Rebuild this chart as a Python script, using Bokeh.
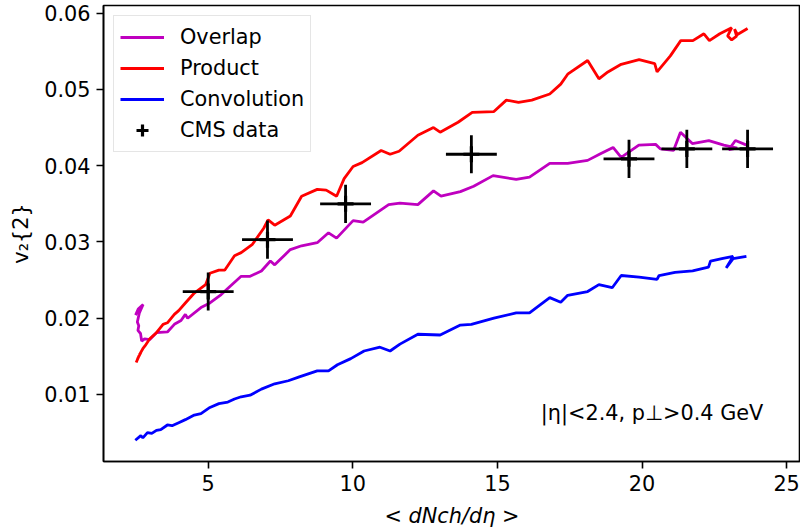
from bokeh.plotting import figure
from bokeh.models import Legend, LegendItem, Label, FixedTicker, Range1d, ColumnDataSource
from bokeh.embed import file_html
from bokeh.resources import INLINE

# ---- data ----
overlap_x = [2.49, 2.58, 2.75, 2.62, 2.55, 2.60, 2.57, 2.66, 2.70, 2.80, 2.98, 3.21, 3.59, 3.83,
             4.06, 4.21, 4.29, 4.75, 5.06, 5.45, 5.76, 6.14, 6.45, 6.84, 7.15, 7.30, 7.84, 8.23,
             8.77, 9.16, 9.44, 10.01, 10.36, 11.24, 11.63, 12.25, 12.79, 13.05, 13.72, 14.18,
             14.85, 15.65, 16.11, 16.81, 17.43, 18.12, 18.58, 19.00, 19.28, 19.89, 20.47, 20.64,
             21.09, 21.33, 21.74, 22.31, 22.83, 23.29, 23.00, 23.23, 23.62]
overlap_y = [0.0204, 0.0212, 0.0218, 0.0207, 0.0195, 0.0190, 0.0184, 0.0180, 0.0170, 0.0173,
             0.0172, 0.0181, 0.0182, 0.0192, 0.0197, 0.0205, 0.0200, 0.0214, 0.0220, 0.0231,
             0.0242, 0.0255, 0.0255, 0.0262, 0.0275, 0.0270, 0.0290, 0.0295, 0.0299, 0.0312,
             0.0305, 0.0328, 0.0326, 0.0349, 0.0351, 0.0349, 0.0367, 0.0360, 0.0366, 0.0373,
             0.0387, 0.0382, 0.0385, 0.0403, 0.0403, 0.0407, 0.0416, 0.0424, 0.0411, 0.0427,
             0.0428, 0.0422, 0.0420, 0.0444, 0.0429, 0.0433, 0.0427, 0.0423, 0.0421, 0.0433,
             0.0427]

product_x = [2.51, 2.60, 2.55, 2.67, 2.62, 2.74, 2.82, 2.98, 3.21, 3.44, 3.59, 3.83, 3.98, 4.21,
             4.52, 4.91, 5.06, 5.37, 5.57, 5.91, 6.14, 6.53, 6.92, 7.07, 7.30, 7.84, 8.23, 8.77,
             9.08, 9.44, 9.70, 10.01, 10.32, 10.98, 11.29, 11.60, 12.25, 12.79, 13.02, 13.64,
             14.13, 14.88, 15.31, 15.73, 16.19, 16.81, 17.19, 17.43, 18.12, 18.51, 18.82, 19.28,
             19.90, 20.44, 20.52, 20.98, 21.34, 21.76, 22.14, 22.33, 22.69, 23.10, 22.96, 23.10,
             23.27, 23.20, 23.30, 23.65]
product_y = [0.0142, 0.0150, 0.0146, 0.0155, 0.0152, 0.0160, 0.0164, 0.0173, 0.0181, 0.0192,
             0.0194, 0.0205, 0.0210, 0.0220, 0.0233, 0.0244, 0.0259, 0.0263, 0.0263, 0.0282,
             0.0286, 0.0297, 0.0318, 0.0329, 0.0322, 0.0334, 0.0360, 0.0369, 0.0368, 0.0360,
             0.0383, 0.0399, 0.0404, 0.0420, 0.0415, 0.0419, 0.0440, 0.0450, 0.0444, 0.0457,
             0.0470, 0.0471, 0.0486, 0.0483, 0.0486, 0.0494, 0.0507, 0.0520, 0.0538, 0.0514,
             0.0523, 0.0533, 0.0539, 0.0534, 0.0523, 0.0544, 0.0564, 0.0564, 0.0573, 0.0564,
             0.0573, 0.0581, 0.0570, 0.0565, 0.0570, 0.0579, 0.0572, 0.0580]

convolution_x = [2.48, 2.67, 2.74, 2.90, 3.05, 3.21, 3.36, 3.59, 3.75, 3.98, 4.21, 4.52, 4.75,
                 5.06, 5.37, 5.68, 5.91, 6.14, 6.45, 6.84, 7.30, 7.77, 8.15, 8.77, 9.16, 9.47,
                 9.93, 10.39, 10.94, 11.29, 11.63, 12.25, 13.02, 13.72, 14.10, 14.88, 15.65,
                 16.11, 16.81, 17.19, 17.43, 18.12, 18.51, 18.97, 19.28, 19.90, 20.52, 20.59,
                 21.14, 21.75, 22.30, 22.37, 22.76, 23.15, 22.91, 23.15, 23.61]
convolution_y = [0.0040, 0.0046, 0.0043, 0.0050, 0.0049, 0.0053, 0.0054, 0.0060, 0.0059, 0.0063,
                 0.0067, 0.0073, 0.0075, 0.0083, 0.0088, 0.0090, 0.0094, 0.0097, 0.0099, 0.0107,
                 0.0114, 0.0118, 0.0123, 0.0131, 0.0131, 0.0139, 0.0147, 0.0157, 0.0162, 0.0157,
                 0.0166, 0.0179, 0.0178, 0.0191, 0.0192, 0.0200, 0.0207, 0.0207, 0.0227, 0.0221,
                 0.0230, 0.0235, 0.0244, 0.0240, 0.0256, 0.0254, 0.0251, 0.0256, 0.0260, 0.0262,
                 0.0267, 0.0275, 0.0278, 0.0281, 0.0266, 0.0278, 0.0281]

cms_x = [5.0, 7.05, 9.75, 14.1, 19.55, 21.55, 23.65]
cms_y = [0.0235, 0.0303, 0.0350, 0.0415, 0.0409, 0.0422, 0.0422]
cms_xerr = [0.88, 0.88, 0.88, 0.88, 0.88, 0.88, 0.88]
cms_yerr = [0.0025, 0.0025, 0.0025, 0.0025, 0.0025, 0.0025, 0.0025]

x_ticks = [5, 10, 15, 20, 25]
y_ticks = [0.01, 0.02, 0.03, 0.04, 0.05, 0.06]

FONT = "DejaVu Sans"
FS = "20.8px"
MAGENTA = "#bf00bf"
RED = "#ff0000"
BLUE = "#0000ff"
LW = 2.8

p = figure(width=800, height=530, output_backend="svg", toolbar_location=None,
           x_range=Range1d(1.38, 25.48), y_range=Range1d(0.00121, 0.06101),
           min_border_left=103, min_border_right=0, min_border_top=5, min_border_bottom=69)

p.grid.visible = False
p.outline_line_color = "black"
p.outline_line_width = 1.6
p.background_fill_color = "white"
p.border_fill_color = "white"

for ax in (p.xaxis[0], p.yaxis[0]):
    ax.axis_line_color = "black"
    ax.axis_line_width = 1.6
    ax.major_tick_line_color = "black"
    ax.major_tick_line_width = 1.6
    ax.major_tick_out = 7
    ax.major_tick_in = 0
    ax.minor_tick_line_color = None
    ax.major_label_text_font = FONT
    ax.major_label_text_font_size = FS
    ax.major_label_text_color = "black"
    ax.axis_label_text_font = FONT
    ax.axis_label_text_font_size = FS
    ax.axis_label_text_color = "black"
    ax.major_label_standoff = 6

p.xaxis.axis_label_standoff = 10
p.yaxis.axis_label_standoff = 8

p.xaxis.ticker = FixedTicker(ticks=x_ticks)
p.yaxis.ticker = FixedTicker(ticks=y_ticks)
p.xaxis.axis_label = "< dNch/dη >"
p.xaxis.axis_label_text_font_style = "italic"
p.yaxis.axis_label = "v₂{2}"
p.yaxis.axis_label_text_font_style = "normal"

r_over = p.line(overlap_x, overlap_y, line_color=MAGENTA, line_width=LW)
r_prod = p.line(product_x, product_y, line_color=RED, line_width=LW)
r_conv = p.line(convolution_x, convolution_y, line_color=BLUE, line_width=LW)

src = ColumnDataSource(dict(
    x=cms_x, y=cms_y,
    xl=[a - e for a, e in zip(cms_x, cms_xerr)], xr=[a + e for a, e in zip(cms_x, cms_xerr)],
    yl=[a - e for a, e in zip(cms_y, cms_yerr)], yu=[a + e for a, e in zip(cms_y, cms_yerr)],
))
p.segment(x0="xl", y0="y", x1="xr", y1="y", source=src, line_color="black", line_width=LW)
p.segment(x0="x", y0="yl", x1="x", y1="yu", source=src, line_color="black", line_width=LW)
r_cms = p.scatter("x", "y", source=src, marker="cross", size=16, line_color="black", line_width=3.2)

legend = Legend(items=[
    LegendItem(label="Overlap", renderers=[r_over]),
    LegendItem(label="Product", renderers=[r_prod]),
    LegendItem(label="Convolution", renderers=[r_conv]),
    LegendItem(label="CMS data", renderers=[r_cms]),
], location="top_left")
legend.label_text_font = FONT
legend.label_text_font_size = FS
legend.label_text_color = "black"
legend.glyph_width = 44
legend.glyph_height = 30
legend.label_height = 30
legend.spacing = 1
legend.padding = 6
legend.margin = 10
legend.label_standoff = 16
legend.border_line_color = "#cccccc"
legend.border_line_width = 1.5
legend.background_fill_alpha = 0.8
p.add_layout(legend)

p.add_layout(Label(x=16.5, y=0.0076, text="|η|<2.4, p⊥>0.4 GeV", text_font=FONT,
                   text_font_size=FS, text_baseline="middle", text_color="black"))

open("out.html", "w").write(file_html(p, INLINE))
